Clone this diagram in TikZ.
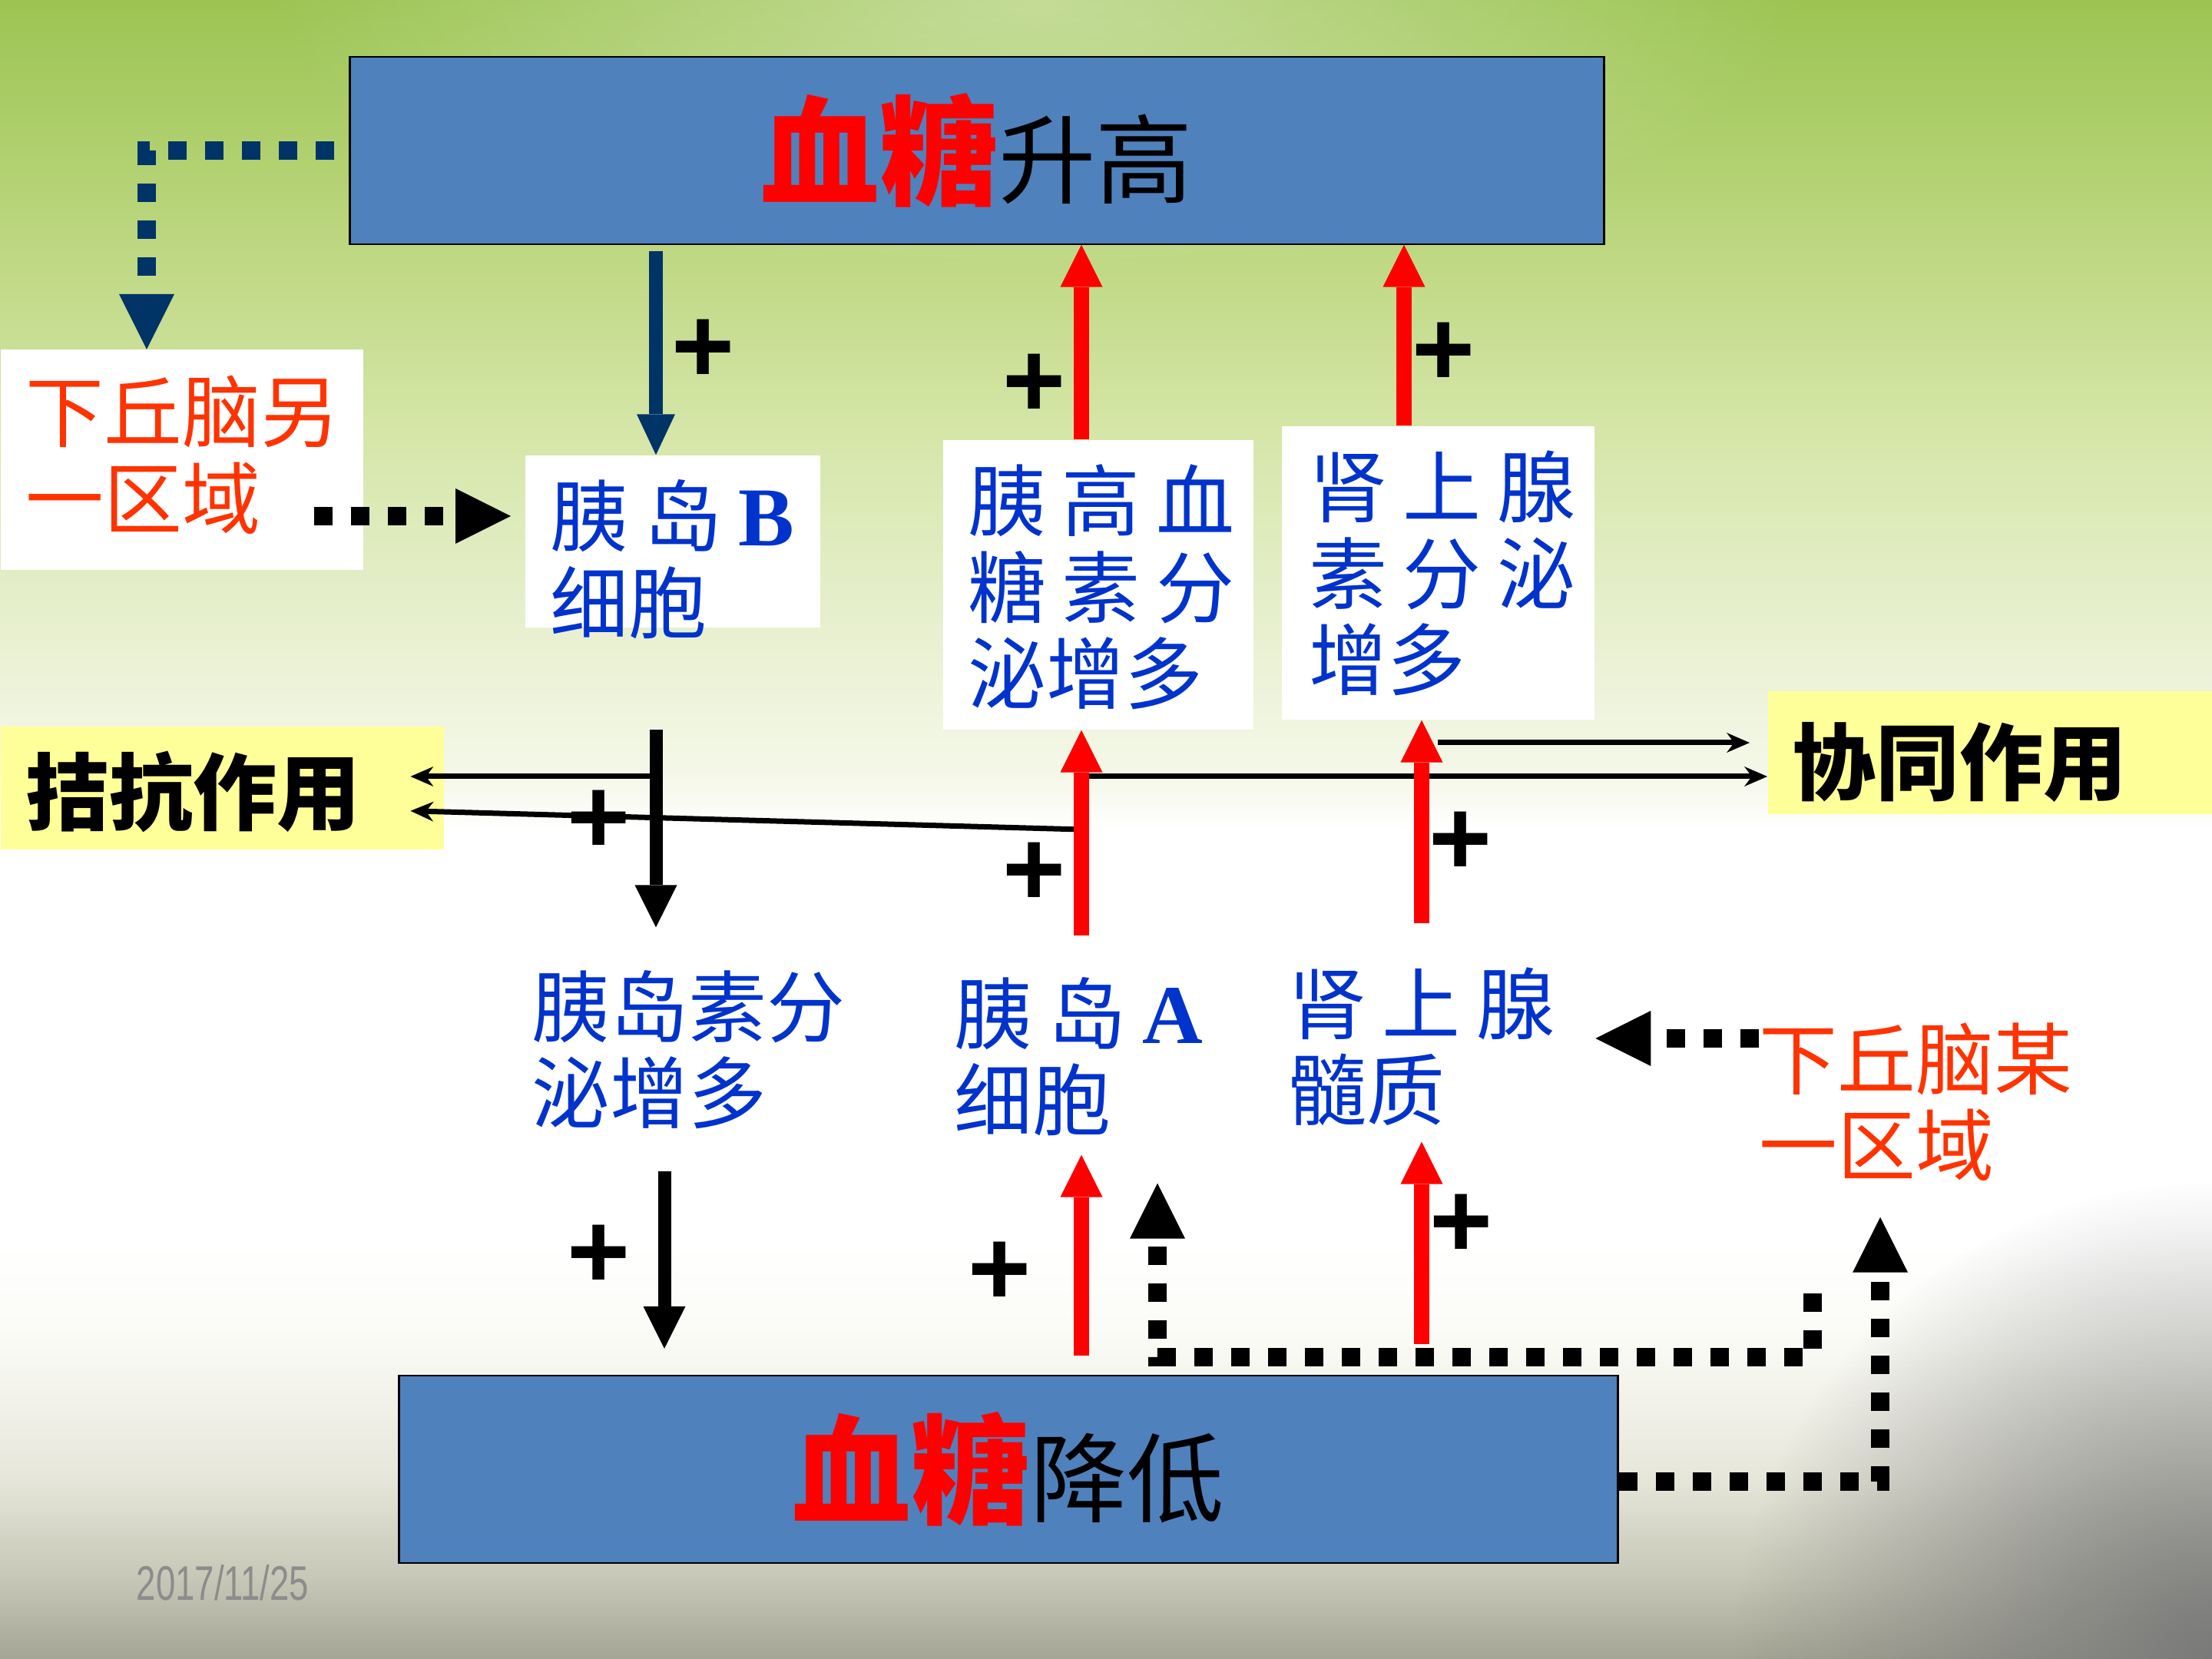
\documentclass[tikz,border=0pt]{standalone}
\usepackage{fontspec}
\usepackage{graphicx}
\setmainfont{Liberation Sans}
\newfontfamily\cjk{Noto Sans CJK SC}
\newfontfamily\tnr{Liberation Serif}
\usetikzlibrary{arrows.meta,positioning,fadings}
\definecolor{boxblue}{HTML}{4F81BD}
\definecolor{txtblue}{RGB}{0,51,204}
\definecolor{hypored}{RGB}{255,51,0}
\definecolor{navyline}{RGB}{0,51,102}
\definecolor{paleyel}{HTML}{FFFF99}
\definecolor{dategray}{HTML}{8C8C8C}
\definecolor{cornergray}{HTML}{7A7A7A}
\definecolor{bgA}{HTML}{A5A595}\definecolor{bgB}{HTML}{C8C8B8}
\definecolor{bgC}{HTML}{E6E6DA}\definecolor{bgD}{HTML}{FAFAF5}
\definecolor{bgE}{HTML}{F5F8EA}\definecolor{bgF}{HTML}{E8F0D0}
\definecolor{bgG}{HTML}{D5E6A8}\definecolor{bgH}{HTML}{BBD67E}
\definecolor{bgI}{HTML}{9CC452}
\pgfdeclareverticalshading{slidebg}{100bp}{color(0bp)=(bgA); color(25bp)=(bgA);
 color(27.5bp)=(bgB); color(30.5bp)=(bgC); color(34.5bp)=(bgD); color(37.5bp)=(white);
 color(50bp)=(white); color(51.5bp)=(bgE); color(56bp)=(bgF); color(62bp)=(bgG);
 color(68bp)=(bgH); color(75bp)=(bgI); color(100bp)=(bgI)}
\tikzfading[name=glowfade,inner color=transparent!0,outer color=transparent!100]
\newcommand{\jg}{\hspace{.2em}}
\newcommand{\txtrows}[1]{\vtop{\lineskiplimit=-\maxdimen\halign{##\hfil\cr#1\crcr}}}
\tikzset{glu/.style={draw=black,line width=0.6pt,fill=boxblue,inner sep=0pt,minimum height=2.44cm,font=\cjk},
 wbox/.style={fill=white,inner ysep=0pt,inner xsep=0.33cm,anchor=base west,text=txtblue,
 font=\cjk\fontsize{29}{32}\selectfont},
 btxt/.style={inner sep=0pt,anchor=base west,text=txtblue,font=\cjk\fontsize{29}{32}\selectfont},
 ybox/.style={fill=paleyel,inner ysep=0pt,inner xsep=0.33cm,anchor=base west,
 font=\cjk\bfseries\fontsize{31}{32}\selectfont},
 plussign/.style={inner sep=0pt,font=\bfseries\fontsize{40}{40}\selectfont}}
\tikzset{redarr/.style={draw=red,line width=0.2cm,-{Triangle[width=5.5mm,length=5.5mm,line width=0pt]}},
 blkarr/.style={line width=0.17cm,-{Triangle[width=5.5mm,length=5.5mm,line width=0pt]}},
 navyarr/.style={draw=navyline,line width=0.18cm,-{Triangle[width=5mm,length=5.3mm,line width=0pt]}},
 dotarr/.style={line width=0.24cm,dash pattern=on 0.24cm off 0.24cm,
 -{Triangle[width=7.2mm,length=7.2mm,line width=0pt]}},
 navydot/.style={dotarr,draw=navyline},
 thinarr/.style={line width=0.07cm,-{Stealth[width=2.6mm,length=3mm,line width=0pt]}}}
\begin{document}
\begin{tikzpicture}
\useasboundingbox (0,0) rectangle (28.8,-21.6);
\fill[shading=slidebg] (0,0) rectangle (28.8,-21.6);
\fill[white,fill opacity=0.4,path fading=glowfade] (13.5,0) ellipse (10 and 3.6);
\fill[cornergray,path fading=glowfade] (28.8,-21.6) circle (6.2);
% columns and rows for the arrows
\coordinate (colH) at (1.91,0);
\coordinate (colB) at (8.54,0);
\coordinate (colC) at (8.65,0);
\coordinate (colA) at (14.08,0);
\coordinate (colN) at (15.07,0);
\coordinate (colE) at (18.28,0);
\coordinate (colM) at (18.51,0);
\coordinate (colO) at (24.48,0);
\coordinate (rowH) at (0,-6.72);
\coordinate (rowK) at (0,-9.67);
\coordinate (rowI) at (0,-10.11);
\coordinate (rowJ) at (0,-10.80);
\coordinate (rowJt) at (0,-10.57);
\coordinate (rowM) at (0,-13.52);
\coordinate (rowN) at (0,-17.67);
\coordinate (rowO) at (0,-19.29);
\coordinate (gStart) at (8.54,-9.50);
\coordinate (nStart) at (23.60,-16.84);
% blood sugar boxes
\node[glu,minimum width=16.33cm] (rise) at (12.72,-1.956)
 {\textcolor{red}{\bfseries\fontsize{44}{48}\selectfont 血糖}\fontsize{36}{40}\selectfont 升高};
\node[glu,minimum width=15.87cm] (fall) at (13.13,-19.13)
 {\textcolor{red}{\bfseries\fontsize{44}{48}\selectfont 血糖}\fontsize{36}{40}\selectfont 降低};
% labels on white
\node[wbox,text=hypored,text height=1.195cm,text depth=1.67cm] (hypo1) at (0,-5.75)
 {\makebox[4.06cm][l]{\txtrows{下丘脑另\cr 一区域}}};
\node[wbox,text height=1.18cm,text depth=1.06cm] (beta) at (6.83,-7.11)
 {\makebox[3.18cm][l]{\txtrows{胰\jg 岛\jg{\tnr\bfseries\fontsize{31}{32}\selectfont B}\cr 细胞}}};
\node[wbox,text height=1.18cm,text depth=2.59cm] (gcg) at (12.27,-6.91)
 {\makebox[3.38cm][l]{\txtrows{胰\jg 高\jg 血\cr 糖\jg 素\jg 分\cr 泌增多}}};
\node[wbox,inner xsep=0.36cm,text height=1.18cm,text depth=2.64cm] (adr) at (16.68,-6.73)
 {\makebox[3.35cm][l]{\txtrows{肾\jg 上\jg 腺\cr 素\jg 分\jg 泌\cr 增多}}};
\node[ybox,text height=1.27cm,text depth=0.33cm] (anta) at (0,-10.73) {\makebox[5.11cm][l]{拮抗作用}};
\node[ybox,inner xsep=0.32cm,text height=1.33cm,text depth=0.27cm] (syn) at (23.01,-10.33)
 {\makebox[5.15cm][l]{协同作用}};
\node[btxt,text height=1.41cm,text depth=1.75cm] (insu) at (6.92,-13.49) {\txtrows{胰岛素分\cr 泌增多}};
\node[btxt,text height=1.39cm,text depth=1.45cm] (alpha) at (12.42,-13.58)
 {\txtrows{胰\jg 岛\jg{\tnr\bfseries\fontsize{31}{32}\selectfont A}\cr 细胞}};
\node[btxt,text height=1.42cm,text depth=1.41cm] (medul) at (16.77,-13.45)
 {\makebox[3.99cm][l]{\txtrows{肾\jg 上\jg 腺\cr 髓质}}};
\node[btxt,text=hypored,text height=0.6cm,text depth=1.67cm] (hypo2) at (22.90,-14.17)
 {\txtrows{下丘脑某\cr 一区域}};
% antagonism and synergy
\draw[thinarr,shorten >=-4.4mm] (colB |- rowI) -- (anta.east |- rowI);
\draw[thinarr,shorten >=-4.4mm] (colA |- rowJ) -- (anta.east |- rowJt);
\draw[thinarr,shorten <=2.1mm,shorten >=2.3mm] (colM |- rowK) -- (syn.west |- rowK);
\draw[thinarr] (colA |- rowI) -- (syn.west |- rowI);
% hormone arrows
\draw[navyarr,shorten <=0.8mm] (rise.south -| colB) -- (beta.north -| colB);
\draw[redarr] (gcg.north -| colA) -- (rise.south -| colA);
\draw[redarr] (adr.north -| colE) -- (rise.south -| colE);
\draw[blkarr] (gStart) -- (insu.north -| colB);
\draw[blkarr,shorten >=3.4mm] (insu.south -| colC) -- (fall.north -| colC);
\draw[redarr] (alpha.north -| colA) -- (gcg.south -| colA);
\draw[redarr] (medul.north -| colM) -- (adr.south -| colM);
\draw[redarr,shorten <=2.5mm] (fall.north -| colA) -- (alpha.south -| colA);
\draw[redarr,shorten <=4mm] (fall.north -| colM) -- (medul.south -| colM);
% nerve paths
\draw[navydot,shorten <=1.9mm] (rise.west) -| (hypo1.north -| colH);
\draw[dotarr,shorten <=-6.4mm,shorten >=1.8mm] (hypo1.east |- rowH) -- (beta.west |- rowH);
\draw[dotarr] (hypo2.west |- rowM) -- (medul.east |- rowM);
\draw[dotarr,shorten >=3.7mm] (nStart) |- (colN |- rowN) -- (alpha.south -| colN);
\draw[dotarr] (fall.east |- rowO) -| (hypo2.south -| colO);
% plus signs
\foreach \n/\p in {1/{(9.16,-4.57)},2/{(13.47,-5.02)},3/{(18.80,-4.61)},4/{(7.80,-10.70)},
 5/{(13.47,-11.38)},6/{(19.02,-10.98)},7/{(7.80,-16.36)},8/{(13.02,-16.58)},9/{(19.03,-15.96)}}
 \node[plussign] (p\n) at \p {+};
\node[text=dategray,font=\fontsize{18}{18}\selectfont] (date) at (2.90,-20.61) {\scalebox{0.72}[1]{2017/11/25}};
\end{tikzpicture}
\end{document}
